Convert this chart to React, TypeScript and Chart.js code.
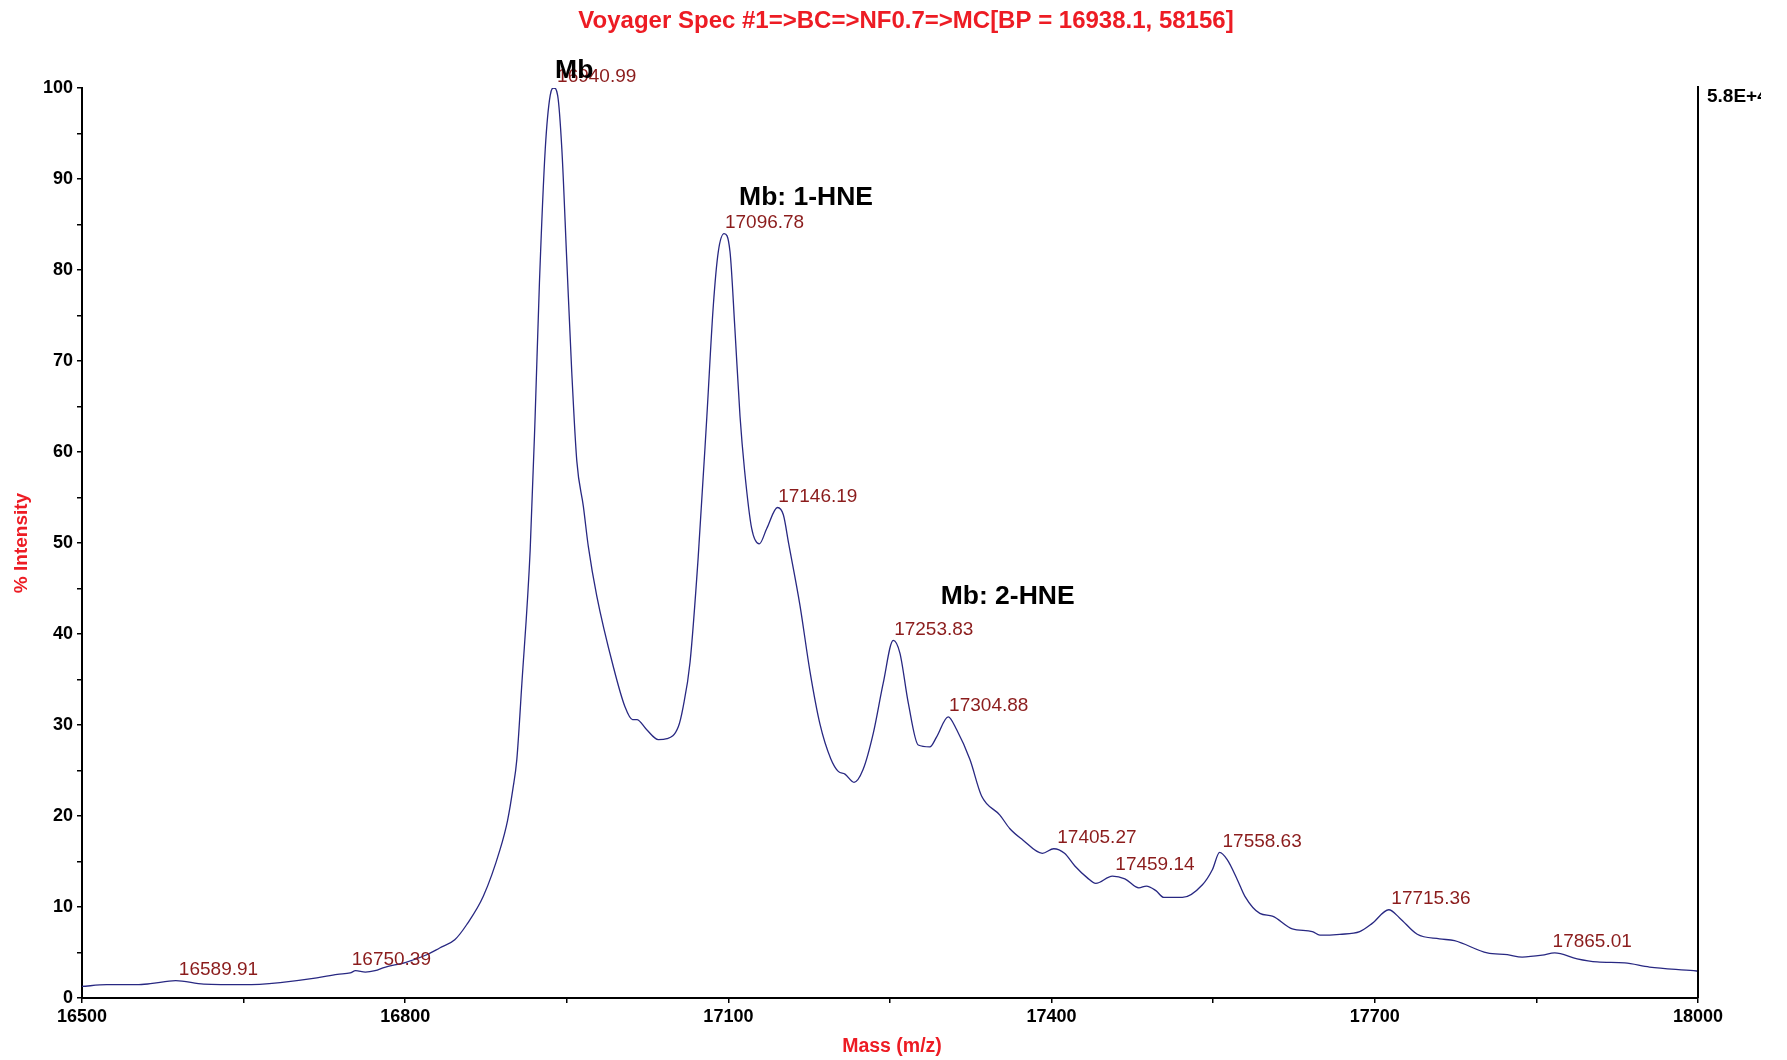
import React, { useEffect, useRef } from "react";
import { Chart, registerables } from "chart.js";

Chart.register(...registerables);

const titleText = "Voyager Spec #1=>BC=>NF0.7=>MC[BP = 16938.1, 58156]";
const xAxisTitle = "Mass (m/z)";
const yAxisTitle = "% Intensity";
const scaleNote = "5.8E+4";

const massValues = [
  16500, 16523, 16551, 16563.4, 16587, 16613, 16651, 16684, 16718, 16737, 16749, 16754, 16763, 16772, 16781,
  16800, 16820, 16832, 16846, 16857, 16872.6, 16888, 16895, 16900, 16903.6, 16908.2, 16916, 16920.6, 16924.6,
  16930, 16934.6, 16938, 16941.5, 16945.4, 16950, 16954.6, 16959.3, 16965.4, 16970, 16977.8, 16993.2, 17004,
  17011, 17015, 17024, 17035, 17043, 17053.5, 17058, 17064.4, 17072, 17080, 17086, 17090.6, 17096, 17101.5,
  17106, 17110.8, 17115, 17121.6, 17128.7, 17135.6, 17145.6, 17151, 17156, 17166.5, 17175.7, 17185, 17195,
  17202, 17208.2, 17216.6, 17225, 17234.5, 17243.7, 17253, 17259.2, 17267, 17276.2, 17287, 17293.3, 17304,
  17311.8, 17324.2, 17335, 17352, 17361.3, 17373, 17391.4, 17402, 17412, 17421.6, 17433.2, 17441, 17456.4,
  17468, 17481, 17488, 17496.8, 17504.2, 17521.4, 17540, 17549.2, 17556, 17563, 17572.4, 17579.3, 17593.3,
  17604.9, 17623.4, 17642, 17649, 17667.5, 17686, 17697.6, 17713, 17723, 17739.4, 17760, 17774, 17804.4,
  17823, 17836.8, 17855.4, 17867, 17887.8, 17906.4, 17932, 17955, 17996, 18000,
];

const intensityValues = [
  1.27, 1.46, 1.46, 1.57, 1.9, 1.53, 1.46, 1.7, 2.2, 2.6, 2.75, 3.0, 2.85, 3.0, 3.37,
  3.9, 4.75, 5.5, 6.4, 8.05, 11.2, 16.3, 19.5, 23, 26.2, 34.4, 49.2, 63.9, 78.6,
  93.3, 99.2, 100, 99.2, 93.3, 81, 68.8, 59, 54, 49.6, 44.2, 36.4, 32,
  30.6, 30.6, 29.5, 28.4, 28.5, 29.8, 32, 36.9, 48.5, 63.9, 76.1, 82, 84, 82,
  73.6, 63.9, 58, 51.6, 49.9, 51.6, 53.9, 53.1, 49.9, 43.1, 35.9, 30.1, 26.3,
  24.9, 24.6, 23.7, 25.1, 29.1, 34.6, 39.3, 37.9, 32.4, 27.8, 27.6, 28.7, 30.9,
  29.5, 26.2, 22.2, 20.1, 18.6, 17.4, 15.9, 16.4, 15.9, 14.5, 13.2, 12.6, 13.4,
  13.1, 12.1, 12.3, 11.8, 11.05, 11.05, 12.45, 14.1, 16, 15.2, 13, 11.2, 9.3,
  9.0, 7.6, 7.3, 6.9, 7.0, 7.3, 8.2, 9.7, 8.8, 7.0, 6.5, 6.3, 4.95,
  4.76, 4.5, 4.7, 4.95, 4.3, 3.96, 3.85, 3.4, 3.0, 2.95,
];

const peakLabels = [
  "16589.91", "16750.39", "16940.99", "17096.78", "17146.19", "17253.83",
  "17304.88", "17405.27", "17459.14", "17558.63", "17715.36", "17865.01",
];
const peakMasses = [16589.91, 16750.39, 16940.99, 17096.78, 17146.19, 17253.83, 17304.88, 17405.27, 17459.14, 17558.63, 17715.36, 17865.01];
const peakHeights = [1.9, 3.0, 100, 84, 53.9, 39.3, 30.9, 16.4, 13.4, 16, 9.7, 4.95];

const annotationTexts = ["Mb", "Mb: 1-HNE", "Mb: 2-HNE"];
const annotationMasses = [16939.1, 17109.9, 17297];
const annotationHeights = [101.9, 88.0, 44.1];

const FONT = "'Liberation Sans', Arial, sans-serif";

const textPlugin = {
  id: "customText",
  afterDraw(chart: any) {
    const { ctx, chartArea } = chart;
    const xs = chart.scales.x;
    const ys = chart.scales.y;
    ctx.save();
    // right border line
    ctx.strokeStyle = "#000";
    ctx.lineWidth = 2;
    ctx.beginPath();
    ctx.moveTo(chartArea.right, chartArea.top - 2);
    ctx.lineTo(chartArea.right, chartArea.bottom);
    ctx.stroke();

    // title
    ctx.fillStyle = "rgb(237,28,36)";
    ctx.font = `bold 24px ${FONT}`;
    ctx.textAlign = "center";
    ctx.textBaseline = "alphabetic";
    ctx.fillText(titleText, 906, 28);

    // x axis title
    ctx.font = `bold 19.5px ${FONT}`;
    ctx.textBaseline = "middle";
    ctx.fillText(xAxisTitle, 892, 1047);

    // y axis title
    ctx.font = `bold 19px ${FONT}`;
    ctx.save();
    ctx.translate(22, (chartArea.top + chartArea.bottom) / 2);
    ctx.rotate(-Math.PI / 2);
    ctx.fillText(yAxisTitle, 0, 0);
    ctx.restore();

    // scale note (clipped at the right as in the original export)
    ctx.save();
    ctx.beginPath();
    ctx.rect(chartArea.right + 2, 60, 61, 60);
    ctx.clip();
    ctx.fillStyle = "#000";
    ctx.font = `bold 19px ${FONT}`;
    ctx.textAlign = "left";
    ctx.fillText(scaleNote, chartArea.right + 9, 97);
    ctx.restore();

    // peak labels
    ctx.fillStyle = "#8b1c1c";
    ctx.font = `19px ${FONT}`;
    ctx.textAlign = "left";
    ctx.textBaseline = "middle";
    peakLabels.forEach((t, i) => {
      const px = xs.getPixelForValue(peakMasses[i]);
      const py = ys.getPixelForValue(peakHeights[i]);
      ctx.fillText(t, px, py - 11);
    });

    // annotations
    ctx.fillStyle = "#000";
    ctx.font = `bold 26.5px ${FONT}`;
    annotationTexts.forEach((t, i) => {
      const px = xs.getPixelForValue(annotationMasses[i]);
      const py = ys.getPixelForValue(annotationHeights[i]);
      ctx.fillText(t, px, py);
    });
    ctx.restore();
  },
};

export default function App() {
  const canvasRef = useRef<HTMLCanvasElement | null>(null);

  useEffect(() => {
    if (!canvasRef.current) return;
    const points = massValues.map((m, i) => ({ x: m, y: intensityValues[i] }));
    const chart = new Chart(canvasRef.current, {
      type: "line",
      data: {
        datasets: [
          {
            data: points,
            borderColor: "rgb(40,40,130)",
            borderWidth: 1.3,
            pointRadius: 0,
            fill: false,
            tension: 0.4,
            cubicInterpolationMode: "monotone",
          },
        ],
      },
      options: {
        responsive: false,
        animation: false,
        devicePixelRatio: 1,
        layout: { padding: { top: 88, right: 89, left: 0, bottom: 0 } },
        plugins: { legend: { display: false }, tooltip: { enabled: false }, title: { display: false } },
        scales: {
          x: {
            type: "linear",
            min: 16500,
            max: 18000,
            afterFit(scale: any) {
              scale.height = 62;
            },
            ticks: {
              stepSize: 150,
              autoSkip: false,
              maxRotation: 0,
              padding: 3,
              color: "#000",
              font: { family: FONT, size: 18, weight: "bold" },
              callback: (v: any) => (Number(v) % 300 === 0 ? String(v) : ""),
            },
            grid: { drawOnChartArea: false, drawTicks: true, tickLength: 5, color: "#000", lineWidth: 1.5 },
            border: { display: true, color: "#000", width: 2 },
          },
          y: {
            min: 0,
            max: 100,
            afterFit(scale: any) {
              scale.width = 82;
            },
            ticks: {
              stepSize: 5,
              autoSkip: false,
              padding: 4,
              color: "#000",
              font: { family: FONT, size: 18, weight: "bold" },
              callback: (v: any) => (Number(v) % 10 === 0 ? String(v) : ""),
            },
            grid: { drawOnChartArea: false, drawTicks: true, tickLength: 5, color: "#000", lineWidth: 1.5 },
            border: { display: true, color: "#000", width: 2 },
          },
        },
      },
      plugins: [textPlugin],
    });
    return () => chart.destroy();
  }, []);

  return (
    <div style={{ position: "absolute", left: 0, top: 0, width: 1787, height: 1060, background: "#fff" }}>
      <canvas ref={canvasRef} width={1787} height={1060} style={{ display: "block" }} />
    </div>
  );
}
